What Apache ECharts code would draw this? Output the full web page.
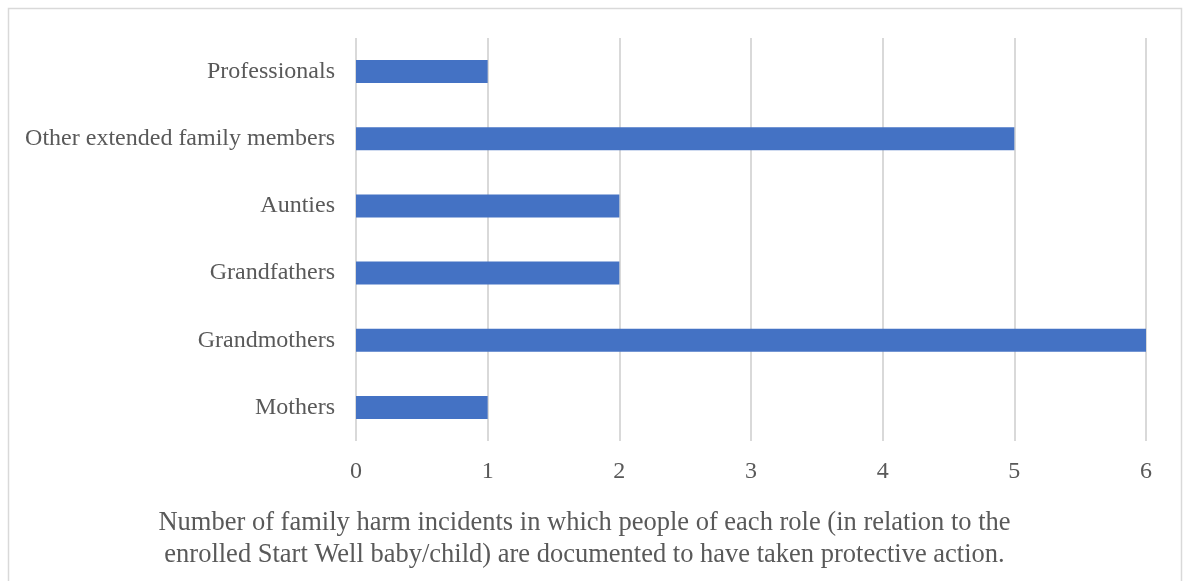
<!DOCTYPE html>
<html>
<head>
<meta charset="utf-8">
<script src="https://cdn.jsdelivr.net/npm/echarts@6/dist/echarts.min.js"></script>
<style>
  html, body { margin: 0; padding: 0; background: #ffffff; }
  #chart { width: 1184px; height: 581px; }
</style>
</head>
<body>
<div id="chart"></div>
<script>
// Roles, listed bottom to top as they appear on the category axis
const roles = ['Mothers', 'Grandmothers', 'Grandfathers', 'Aunties', 'Other extended family members', 'Professionals'];
// Incidents with documented protective action, per role
const incidents = [1, 6, 2, 2, 5, 1];
const xTicks = [0, 1, 2, 3, 4, 5, 6];
const captionLines = [
  'Number of family harm incidents in which people of each role (in relation to the',
  'enrolled Start Well baby/child) are documented to have taken protective action.'
];

const serif = '"Liberation Serif", "Times New Roman", serif';
const textColor = '#595959';

const chart = echarts.init(document.getElementById('chart'), null, { renderer: 'canvas' });
chart.setOption({
  animation: false,
  backgroundColor: '#ffffff',
  grid: { left: 356, right: 38, top: 38, bottom: 140, containLabel: false },
  xAxis: {
    type: 'value',
    min: xTicks[0],
    max: xTicks[xTicks.length - 1],
    interval: 1,
    axisLine: { show: false },
    axisTick: { show: false },
    axisLabel: { color: textColor, fontFamily: serif, fontSize: 24, margin: 19 },
    splitLine: { show: true, lineStyle: { color: '#d9d9d9', width: 2 } }
  },
  yAxis: {
    type: 'category',
    data: roles,
    axisLine: { show: false },
    axisTick: { show: false },
    axisLabel: { color: textColor, fontFamily: serif, fontSize: 24, margin: 21 }
  },
  series: [{
    type: 'bar',
    data: incidents,
    barWidth: 23,
    itemStyle: { color: '#4472c4' }
  }],
  graphic: [
    {
      type: 'rect',
      shape: { x: 8.5, y: 8.5, width: 1173, height: 640 },
      style: { fill: 'none', stroke: '#d9d9d9', lineWidth: 1.5 },
      silent: true
    },
    {
      type: 'text',
      x: 584.5,
      y: 539.5,
      style: {
        text: captionLines.join('\n'),
        font: '26.5px ' + serif,
        fill: textColor,
        textAlign: 'center',
        textVerticalAlign: 'middle',
        lineHeight: 32
      }
    }
  ]
});
</script>
</body>
</html>
